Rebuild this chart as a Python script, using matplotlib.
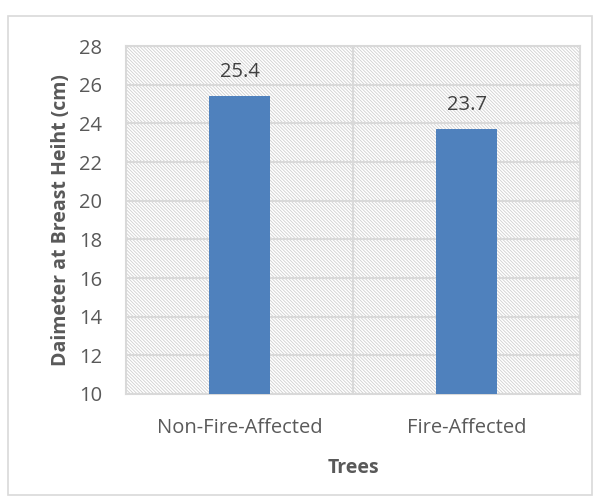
import matplotlib.pyplot as plt
from matplotlib.patches import Rectangle

categories = ["Non-Fire-Affected", "Fire-Affected"]
dbh_values = [25.4, 23.7]
y_ticks = [10, 12, 14, 16, 18, 20, 22, 24, 26, 28]

plt.rcParams['font.family'] = ['Open Sans', 'DejaVu Sans']
plt.rcParams['hatch.color'] = '#d0d0d0'
plt.rcParams['hatch.linewidth'] = 0.6

grey_txt = '#595959'
grid_c = '#d9d9d9'

fig = plt.figure(figsize=(6, 5.03), dpi=100)
ax = fig.add_axes([0.21, 0.2167, 0.757, 0.6918])

# outer chart border
fig.patches.append(Rectangle((8/600, 1-495/503), 584/600, 479/503, transform=fig.transFigure,
                             fill=False, edgecolor=grid_c, linewidth=1.2))

# hatched plot area
ax.add_patch(Rectangle((0, 0), 1, 1, transform=ax.transAxes, facecolor='white',
                       hatch='\\' * 10, edgecolor='#d0d0d0', linewidth=0, zorder=0.1))

x = range(len(categories))
bars = ax.bar(x, dbh_values, width=0.27, color='#4f81bd', zorder=3)
for b, v in zip(bars, dbh_values):
    ax.text(b.get_x() + b.get_width()/2, v + 0.75, f"{v}", ha='center', va='bottom',
            fontsize=14.5, color='#404040', zorder=4)

ax.set_xlim(-0.5, 1.5)
ax.set_ylim(10, 28)
ax.set_yticks(y_ticks)
ax.set_xticks(list(x))
ax.set_xticklabels(categories)
ax.tick_params(length=0, labelsize=14.5, labelcolor=grey_txt)
ax.tick_params(axis='x', pad=17)
ax.tick_params(axis='y', pad=17)
ax.set_axisbelow(True)
ax.yaxis.grid(True, color=grid_c, linewidth=1.5, zorder=0.5)
ax.axvline(0.5, color=grid_c, linewidth=1.5, zorder=0.5)
for s in ax.spines.values():
    s.set_color(grid_c)
    s.set_linewidth(1.5)

ax.set_ylabel("Daimeter at Breast Heiht (cm)", fontsize=14, fontweight='bold', color=grey_txt, labelpad=6)
ax.set_xlabel("Trees", fontsize=14, fontweight='bold', color=grey_txt, labelpad=15)

fig.savefig("out.png", dpi=100)
